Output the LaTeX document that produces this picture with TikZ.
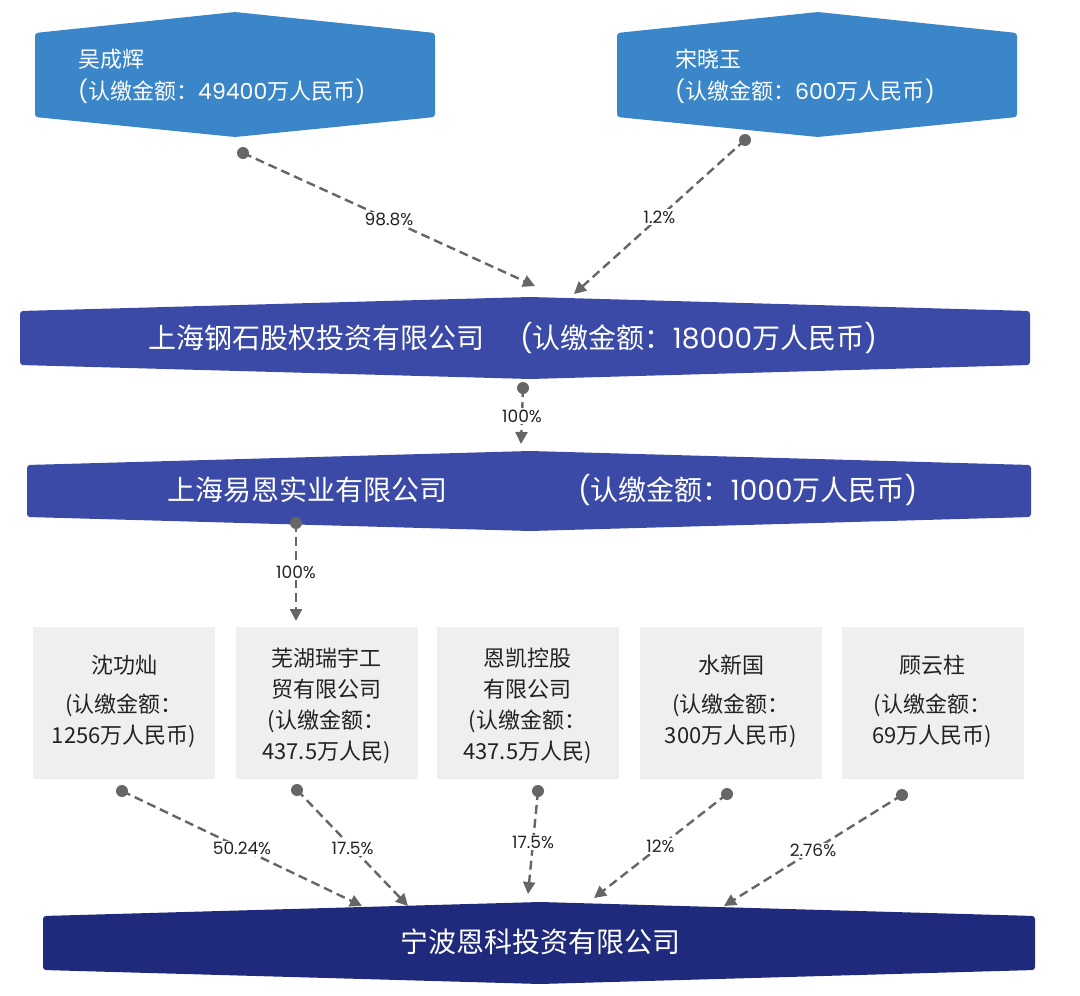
\documentclass[tikz,border=0pt]{standalone}
\usepackage{fontspec}
\setmainfont{Noto Sans CJK SC}
\newfontfamily\pctfont{Poppins}
\newcommand\pf[1]{{\pctfont #1}}
\usetikzlibrary{arrows.meta}
\definecolor{topblue}{HTML}{3A86C8}
\definecolor{midblue}{HTML}{3A4AA6}
\definecolor{darkblue}{HTML}{1F2A7C}
\definecolor{boxgray}{HTML}{EFEFEF}
\definecolor{linegray}{HTML}{666666}
\definecolor{textdark}{HTML}{222222}
% #1 x-left, #2 x-right, #3 x-peak, #4 top peak y, #5 top corner y, #6 bottom corner y, #7 bottom peak y, #8 colour
\newcommand\bannershape[8]{%
  \fill[#8, rounded corners=3pt] (#1,#5) -- (#3,#4) -- (#2,#5) -- (#2,#6) -- (#3,#7) -- (#1,#6) -- cycle;}
\begin{document}
\begin{tikzpicture}[x=1pt,y=-1pt,
  conn/.style={draw=linegray, line width=2.4pt, dash pattern=on 9pt off 5pt, -{Triangle[length=12pt,width=12pt]}},
  dotc/.style={fill=linegray},
  pct/.style={fill=white, inner sep=1.5pt, font=\pctfont\fontsize{17}{17}\selectfont, text=textdark},
  bantext/.style={text=white, font=\fontsize{28}{28}\selectfont, inner sep=0pt},
  toptext/.style={text=white, font=\fontsize{22}{32}\selectfont, align=left, inner sep=0pt, anchor=west},
  graybox/.style={fill=boxgray, draw=none, minimum width=182pt, minimum height=152pt, inner sep=0pt},
  graytext/.style={text=textdark, font=\fontsize{22}{31}\selectfont, align=center, inner sep=0pt}
]
\useasboundingbox (0,0) rectangle (1080,996);

% ---------- top shareholder boxes ----------
\bannershape{35}{435}{235}{12}{33}{117}{137}{topblue}
\bannershape{617}{1017}{818}{12}{33}{117}{137}{topblue}
\node[toptext] (wu) at (78,76) {吴成辉\\\pf{(}认缴金额：\pf{49400}万人民币\pf{)}};
\node[toptext] (song) at (675,76) {宋晓玉\\\pf{(}认缴金额：\pf{600}万人民币\pf{)}};

% ---------- banner 1 ----------
\bannershape{20}{1030}{530}{297}{311}{365}{379}{midblue}
\node[bantext, anchor=west] (gangshi) at (148,338) {上海钢石股权投资有限公司};
\node[bantext, anchor=west] (gangshiAmt) at (520,338) {\pf{(}认缴金额：\pf{18000}万人民币\pf{)}};

% ---------- banner 2 ----------
\bannershape{27}{1031}{530}{451}{465}{517}{531}{midblue}
\node[bantext, anchor=west] (yien) at (167,490) {上海易恩实业有限公司};
\node[bantext, anchor=west] (yienAmt) at (578,490) {\pf{(}认缴金额：\pf{1000}万人民币\pf{)}};

% ---------- gray shareholder boxes ----------
\node[graybox] (shen) at (124,703) {};
\node[graybox] (wuhu) at (326.5,703) {};
\node[graybox] (enkai) at (527.5,703) {};
\node[graybox] (shui) at (731,703) {};
\node[graybox] (gu) at (932.5,703) {};
\node[graytext] at (124,701) {沈功灿\\[8pt](认缴金额：\\1256万人民币)};
\node[graytext] at (326.5,706) {芜湖瑞宇工\\贸有限公司\\(认缴金额：\\437.5万人民)};
\node[graytext] at (527.5,706) {恩凯控股\\有限公司\\(认缴金额：\\437.5万人民)};
\node[graytext] at (731,701) {水新国\\[8pt](认缴金额：\\300万人民币)};
\node[graytext] at (932.5,701) {顾云柱\\[8pt](认缴金额：\\69万人民币)};

% ---------- bottom banner ----------
\bannershape{43}{1035}{540}{902}{916}{970}{984}{darkblue}
\node[bantext] (ningbo) at (540,942) {宁波恩科投资有限公司};

% ---------- connector end points ----------
\coordinate (wuDot) at (243,153);
\coordinate (songDot) at (745,140);
\coordinate (gsInA) at (535,286);
\coordinate (gsInB) at (574,294);
\coordinate (gsDot) at (523,388);
\coordinate (yeIn) at (521,444);
\coordinate (yeDot) at (296,523);
\coordinate (wuhuIn) at (296,621);
\coordinate (shenDot) at (122,791);
\coordinate (wuhuDot) at (297,790);
\coordinate (enkaiDot) at (538,791);
\coordinate (shuiDot) at (727,794);
\coordinate (guDot) at (902,795);
\coordinate (nbA) at (362,906);
\coordinate (nbB) at (408,906);
\coordinate (nbC) at (528,894);
\coordinate (nbD) at (594,898);
\coordinate (nbE) at (724,906);

% ---------- connectors ----------
\draw[conn] (wuDot) -- node[pct] {98.8\%} (gsInA);
\draw[conn] (songDot) -- node[pct] {1.2\%} (gsInB);
\draw[conn] (gsDot) -- node[pct] {100\%} (yeIn);
\draw[conn] (yeDot) -- node[pct] {100\%} (wuhuIn);
\draw[conn] (shenDot) -- node[pct] {50.24\%} (nbA);
\draw[conn] (wuhuDot) -- node[pct] {17.5\%} (nbB);
\draw[conn] (enkaiDot) -- node[pct] {17.5\%} (nbC);
\draw[conn] (shuiDot) -- node[pct] {12\%} (nbD);
\draw[conn] (guDot) -- node[pct] {2.76\%} (nbE);

% ---------- dots ----------
\foreach \d in {wuDot,songDot,gsDot,yeDot,shenDot,wuhuDot,enkaiDot,shuiDot,guDot}
  \fill[dotc] (\d) circle (6);
\end{tikzpicture}
\end{document}
